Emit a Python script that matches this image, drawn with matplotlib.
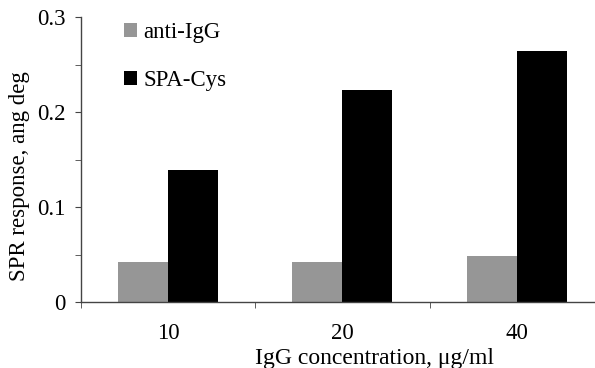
import matplotlib
matplotlib.use("Agg")
import matplotlib.pyplot as plt
import numpy as np

concentrations = ["10", "20", "40"]
anti_igg = [0.042, 0.042, 0.048]
spa_cys = [0.139, 0.223, 0.265]

plt.rcParams['font.family'] = ['Liberation Serif', 'DejaVu Serif']
plt.rcParams['font.size'] = 16.5

fig = plt.figure(figsize=(5.95, 3.68), dpi=100)
ax = fig.add_axes([0.1356, 0.1793, 0.8795, 0.7737])

x = np.arange(len(concentrations))
w = 0.287
ax.bar(x - w / 2, anti_igg, w, color='#969696', label='anti-IgG')
ax.bar(x + w / 2, spa_cys, w, color='black', label='SPA-Cys')

ax.set_xlim(-0.5, 2.5)
ax.set_ylim(0, 0.3)

for s in ['top', 'right']:
    ax.spines[s].set_visible(False)
for s in ['left', 'bottom']:
    ax.spines[s].set_color('#444444')
    ax.spines[s].set_linewidth(1.0)

ax.set_yticks([0, 0.1, 0.2, 0.3])
ax.set_yticklabels(["0", "0.1", "0.2", "0.3"], fontsize=16.5)
ax.set_yticks(np.arange(0.05, 0.3, 0.1), minor=True)
ax.tick_params(axis='y', which='both', direction='out', length=4.3, color='#444444', pad=6.5)

ax.set_xticks(x)
ax.set_xticklabels(concentrations, fontsize=16.5)
ax.set_xticks([-0.5, 0.5, 1.5, 2.5], minor=True)
ax.tick_params(axis='x', which='major', length=0, pad=15)
ax.tick_params(axis='x', which='minor', direction='out', length=4.3, color='#444444')

fig.text(0.630, 0.012, "IgG concentration, \u03bcg/ml", ha='center', va='baseline', fontsize=17)
fig.text(0.032, 0.522, "SPR response, ang deg", rotation=90, ha='center', va='center', fontsize=16.5)

ax.legend(loc='upper left', bbox_to_anchor=(0.066, 1.015), frameon=False,
          handlelength=0.57, handleheight=0.57, handletextpad=0.25,
          labelspacing=1.17, borderaxespad=0)

fig.savefig("out.png", dpi=100)
